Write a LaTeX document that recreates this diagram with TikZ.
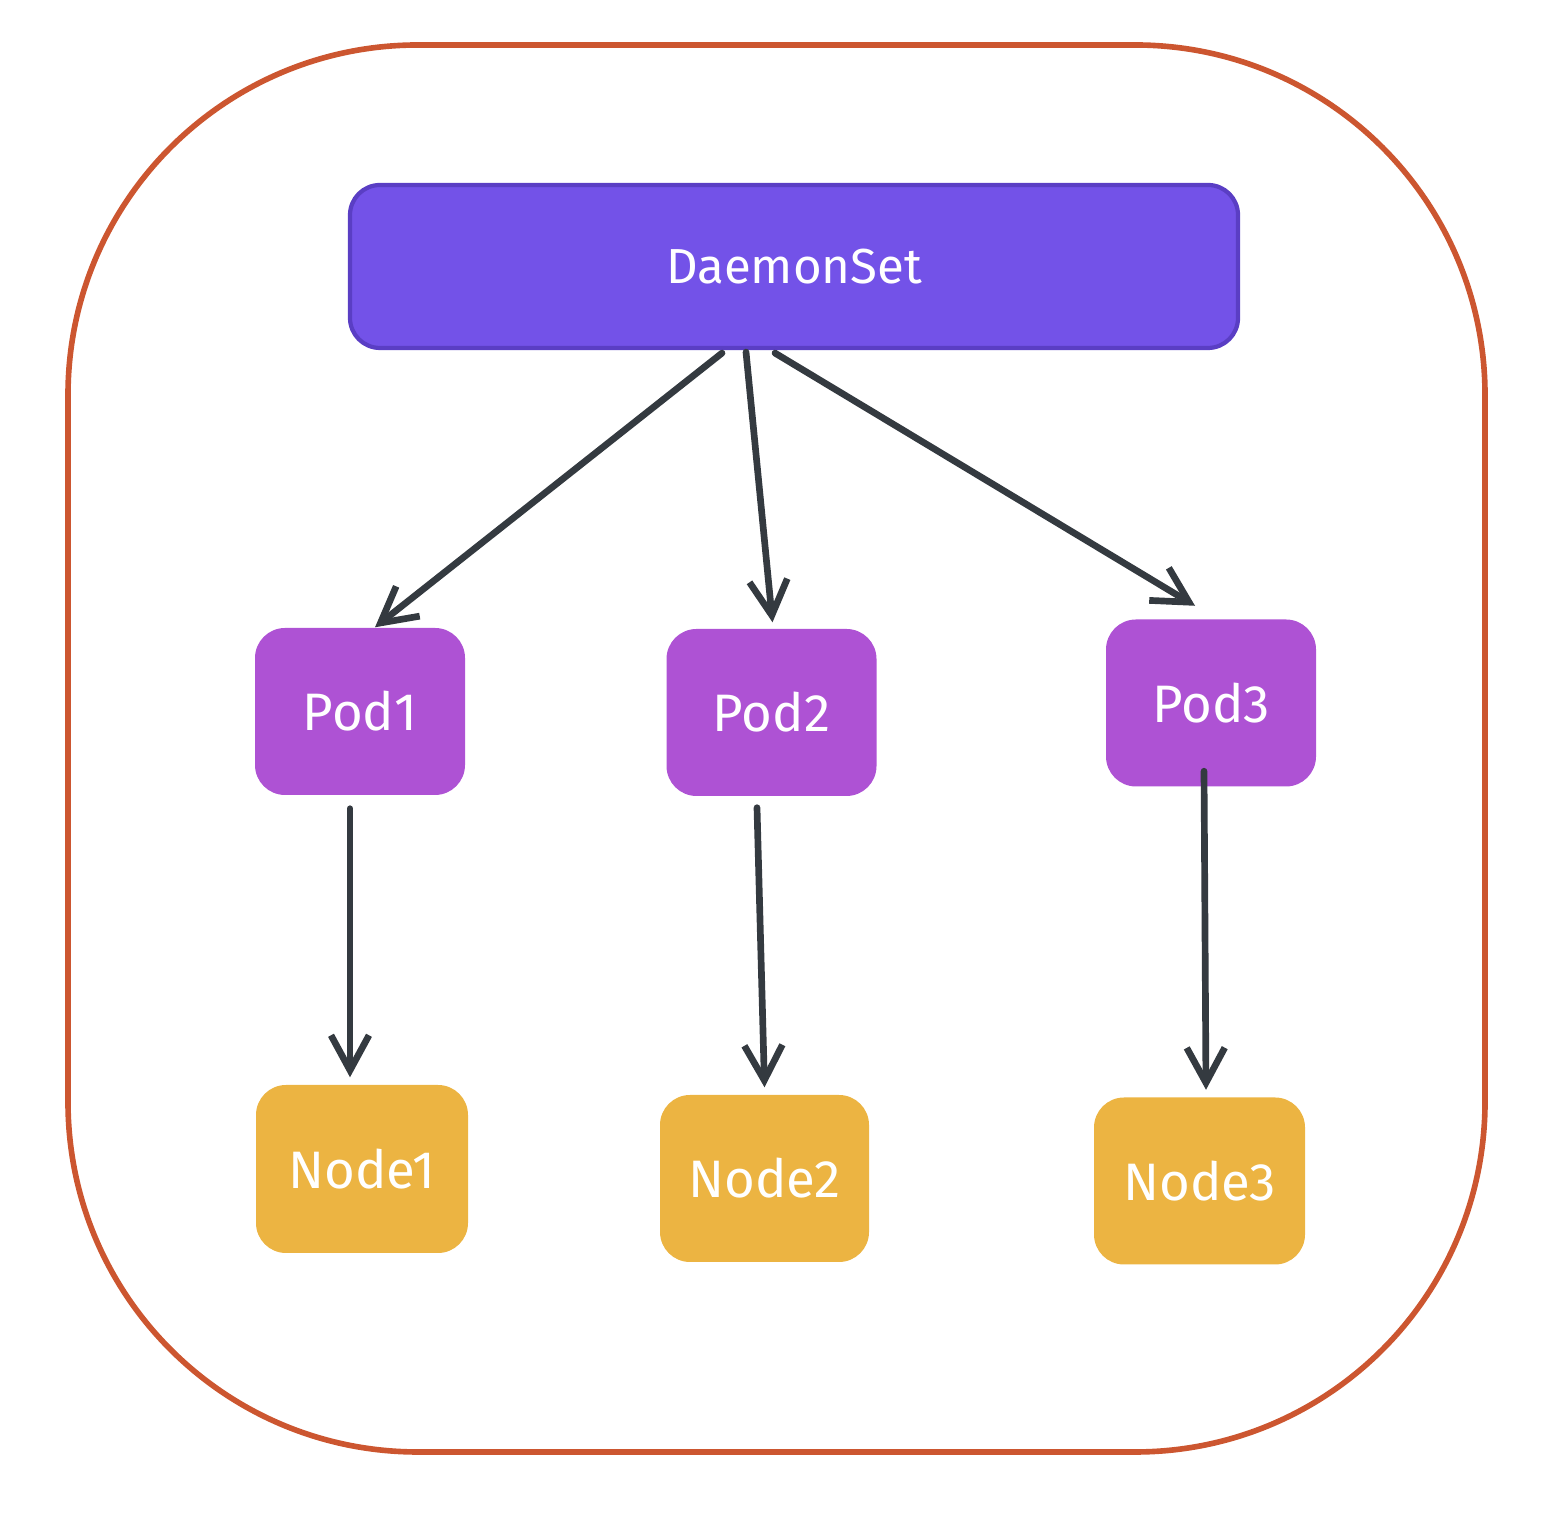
\documentclass[tikz,border=0pt]{standalone}
\usepackage{fontspec}
\setmainfont{Fira Sans}
\usepackage{tikz}
\usetikzlibrary{arrows.meta}
\definecolor{frame}{HTML}{CC5630}
\definecolor{dsfill}{HTML}{7352E8}
\definecolor{dsline}{HTML}{5A3EC4}
\definecolor{podfill}{HTML}{AE52D4}
\definecolor{nodefill}{HTML}{ECB442}
\definecolor{arrowc}{HTML}{343A40}

\begin{document}
\begin{tikzpicture}[
  box/.style={rounded corners=0.3cm, minimum width=2.1cm, minimum height=1.67cm,
    text=white, font=\fontsize{15}{18}\selectfont},
  pod/.style={box, fill=podfill},
  host/.style={box, fill=nodefill},
  arr/.style={draw=arrowc, line width=1.9pt, line cap=round,
    -{Straight Barb[length=3.5mm,width=3.8mm,line width=1.9pt]}}
]
\useasboundingbox (0,0) rectangle (15.62,15.22);
\draw[frame, line width=1.6pt, rounded corners=3.5cm] (0.68,0.70) rectangle (14.85,14.77);

\node[box, fill=dsfill, draw=dsline, line width=1.2pt, minimum width=8.88cm,
  minimum height=1.63cm, font=\fontsize{14}{17}\selectfont] (ds) at (7.94,12.555) {DaemonSet};

\node[pod] (pod1) at (3.60,8.105) {Pod1};
\node[pod] (pod2) at (7.715,8.095) {Pod2};
\node[pod] (pod3) at (12.11,8.19) {Pod3};

\node[host, minimum width=2.12cm, minimum height=1.68cm] (node1) at (3.62,3.53) {Node1};
\node[host, minimum width=2.09cm] (node2) at (7.645,3.435) {Node2};
\node[host, minimum width=2.11cm] (node3) at (11.995,3.41) {Node3};

\draw[arr] ([xshift=-0.72cm,yshift=-0.03cm]ds.south) -- ([xshift=0.15cm]pod1.north);
\draw[arr] ([xshift=-0.48cm,yshift=-0.02cm]ds.south) -- ([xshift=0.01cm,yshift=0.06cm]pod2.north);
\draw[arr] ([xshift=-0.19cm,yshift=-0.03cm]ds.south) -- ([xshift=-0.16cm,yshift=0.13cm]pod3.north);

\draw[arr] ([xshift=-0.10cm,yshift=-0.13cm]pod1.south) -- ([xshift=-0.12cm,yshift=0.07cm]node1.north);
\draw[arr] ([xshift=-0.145cm,yshift=-0.11cm]pod2.south) -- ([xshift=0cm,yshift=0.07cm]node2.north);
\draw[arr] ([xshift=-0.07cm,yshift=0.16cm]pod3.south) -- ([xshift=0.065cm,yshift=0.07cm]node3.north);
\end{tikzpicture}
\end{document}
